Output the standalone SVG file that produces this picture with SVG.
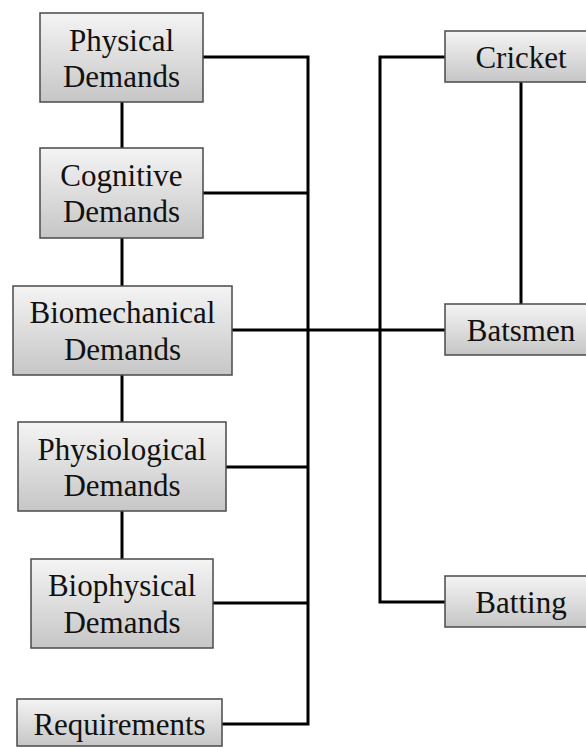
<svg xmlns="http://www.w3.org/2000/svg" width="586" height="747" viewBox="0 0 586 747">
<defs>
<linearGradient id="g" x1="0" y1="0" x2="0" y2="1">
<stop offset="0" stop-color="#f4f4f4"/>
<stop offset="1" stop-color="#c6c6c6"/>
</linearGradient>
<style>
.box{fill:url(#g);stroke:#4a4a4a;stroke-width:1.5}
.t{font-family:"Liberation Serif","Times New Roman",serif;font-size:31px;fill:#111;text-anchor:middle}
.c{fill:none;stroke:#000;stroke-width:3}
</style>
</defs>
<rect width="586" height="747" fill="#fff"/>
<g id="connectors">
<line class="c" x1="122" y1="102" x2="122" y2="148"/>
<line class="c" x1="122" y1="238" x2="122" y2="286"/>
<line class="c" x1="122" y1="375" x2="122" y2="422"/>
<line class="c" x1="122" y1="511" x2="122" y2="559"/>
<polyline class="c" points="203,57 308,57 308,724 222,724"/>
<line class="c" x1="203" y1="193" x2="308" y2="193"/>
<line class="c" x1="232" y1="330" x2="445" y2="330"/>
<line class="c" x1="226" y1="467" x2="308" y2="467"/>
<line class="c" x1="213" y1="603" x2="308" y2="603"/>
<polyline class="c" points="445,57 380,57 380,602 445,602"/>
<line class="c" x1="521" y1="82" x2="521" y2="304"/>
</g>
<g id="physical">
<rect class="box" x="40" y="13" width="163" height="89"/>
<text class="t" x="121.5" y="51">Physical</text>
<text class="t" x="121.5" y="87">Demands</text>
</g>
<g id="cognitive">
<rect class="box" x="40" y="148" width="163" height="90"/>
<text class="t" x="121.5" y="186">Cognitive</text>
<text class="t" x="121.5" y="222">Demands</text>
</g>
<g id="biomechanical">
<rect class="box" x="13" y="286" width="219" height="89"/>
<text class="t" x="122.5" y="323">Biomechanical</text>
<text class="t" x="122.5" y="360">Demands</text>
</g>
<g id="physiological">
<rect class="box" x="18" y="422" width="208" height="89"/>
<text class="t" x="122" y="460">Physiological</text>
<text class="t" x="122" y="496">Demands</text>
</g>
<g id="biophysical">
<rect class="box" x="31" y="559" width="182" height="89"/>
<text class="t" x="122" y="596">Biophysical</text>
<text class="t" x="122" y="633">Demands</text>
</g>
<g id="requirements">
<rect class="box" x="17" y="699" width="205" height="47"/>
<text class="t" x="119.5" y="735">Requirements</text>
</g>
<g id="cricket">
<rect class="box" x="445" y="31" width="152" height="51"/>
<text class="t" x="521" y="68">Cricket</text>
</g>
<g id="batsmen">
<rect class="box" x="445" y="304" width="152" height="51"/>
<text class="t" x="521" y="341">Batsmen</text>
</g>
<g id="batting">
<rect class="box" x="445" y="576" width="152" height="51"/>
<text class="t" x="521" y="613">Batting</text>
</g>
</svg>
